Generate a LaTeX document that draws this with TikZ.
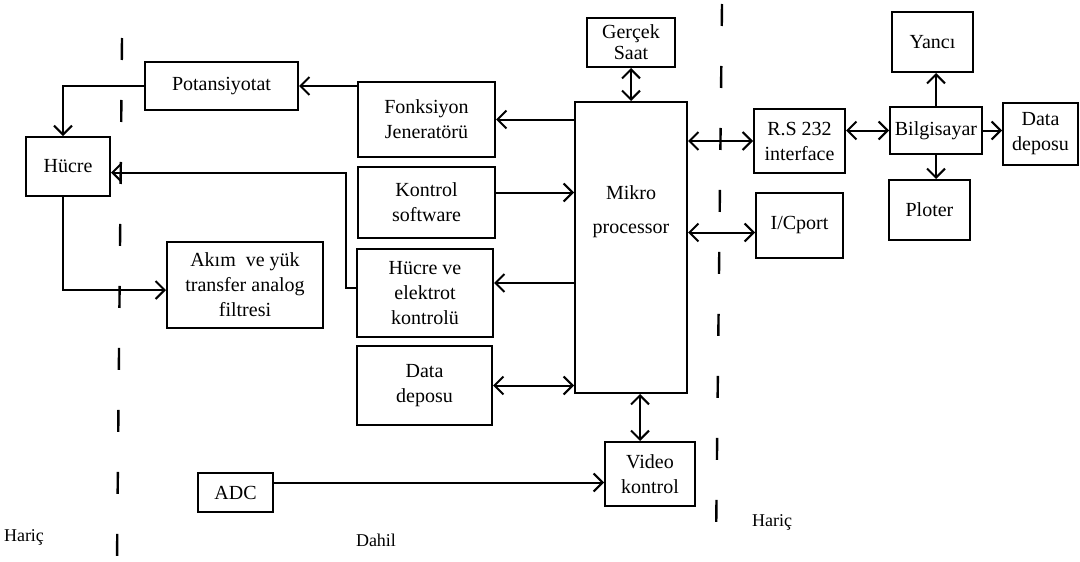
\documentclass[tikz,border=0pt]{standalone}
\usepackage{fontspec}
\setmainfont{Liberation Serif}
\usetikzlibrary{arrows.meta, positioning, calc}

\begin{document}
\begin{tikzpicture}[
  x=1pt, y=-1pt,
  every node/.style={font=\fontsize{20}{25}\selectfont},
  blk/.style 2 args={rectangle, draw=black, line width=2pt, fill=white,
    minimum width=#1pt, minimum height=#2pt, inner sep=1pt, align=center},
  arr/.style={-{Straight Barb[length=9pt, width=18pt]}, line width=2pt},
  dblarr/.style={{Straight Barb[length=9pt, width=18pt]}-{Straight Barb[length=9pt, width=18pt]}, line width=2pt},
  bound/.style={line width=2.4pt, dash pattern=on 22pt off 40pt},
  region/.style={font=\fontsize{18}{20}\selectfont}
]
\useasboundingbox (0,0) rectangle (1080,562);

% ---- SINIRLAR ----
\draw[bound] (122,38) -- (117,562);
\draw[bound] (722,4) -- (716,545);
\node[region] (harc1) at (24,537) {Hariç};
\node[region] (dahil) at (376,540) {Dahil};
\node[region] (harc2) at (772,522) {Hariç};

% ---- HARICI (SOL) ----
\node[blk={84}{59}] (hucre) at (68,166.5) {Hücre};
\node[blk={153}{48}] (pot) at (221.5,86) {Potansiyotat};
\node[blk={156}{86}] (akim) at (245,285) {Akım \ ve yük\\transfer analog\\filtresi};
\node[blk={75}{39}] (adc) at (235.5,492.5) {ADC};

% ---- DAHILI ----
\node[blk={137}{75}] (fonk) at (426.5,119.5) {Fonksiyon\\Jeneratörü};
\node[blk={137}{71}] (kontrol) at (426.5,202.5) {Kontrol\\software};
\node[blk={136}{88}] (elek) at (425,293) {Hücre ve\\elektrot\\kontrolü};
\node[blk={135}{79}] (ddep) at (424.5,385.5) {Data\\deposu};
\node[blk={88}{49}, font=\fontsize{20}{21}\selectfont] (saat) at (631,42.5) {Gerçek\\Saat};
\node[blk={112}{291}, label={[align=center, yshift=36pt, font=\fontsize{20}{34}\selectfont]center:Mikro\\processor}] (mikro) at (631,247.5) {};
\node[blk={90}{64}] (video) at (650,474) {Video\\kontrol};

% ---- HARICI (SAG) ----
\node[blk={91}{64}] (rs) at (799.5,141) {R.S 232\\interface};
\node[blk={87}{65}] (io) at (799.5,225.5) {I/Cport};
\node[blk={92}{47}] (bilg) at (936,130.5) {Bilgisayar};
\node[blk={81}{60}] (yanci) at (932.5,42) {Yancı};
\node[blk={81}{60}] (ploter) at (929.5,210) {Ploter};
\node[blk={75}{62}] (ddep2) at (1040.5,134) {Data\\deposu};

% ---- BAGLANTILAR ----
\draw[arr] (fonk.west |- pot.east) -- (pot.east);
\draw[arr] (pot.west) -| ([xshift=-5pt]hucre.north);
\draw[arr] ([xshift=-5pt]hucre.south) |- ([yshift=-5pt]akim.west);
\draw[arr] ([yshift=5pt]elek.west) -- ++(-10,0) |- ([yshift=-6pt]hucre.east);
\draw[arr] (mikro.west |- fonk.east) -- (fonk.east);
\draw[arr] ([yshift=10pt]kontrol.east) -- ([yshift=10pt]kontrol.east -| mikro.west);
\draw[arr] ([yshift=10pt]elek.east -| mikro.west) -- ([yshift=10pt]elek.east);
\draw[dblarr] (ddep.east) -- (ddep.east -| mikro.west);
\draw[dblarr] (saat.south) -- (saat.south |- mikro.north);
\draw[dblarr] ([xshift=9pt]mikro.south) -- ([xshift=9pt]mikro.south |- video.north);
\draw[arr] ([yshift=10pt]adc.east) -- ([yshift=10pt]adc.east -| video.west);
\draw[dblarr] (mikro.east |- rs.west) -- (rs.west);
\draw[dblarr] ([yshift=-7pt]io.west -| mikro.east) -- ([yshift=-7pt]io.west);
\draw[dblarr] (rs.east |- bilg.west) -- (bilg.west);
\draw[arr] (bilg.east) -- (bilg.east -| ddep2.west);
\draw[arr] (bilg.north) -- (bilg.north |- yanci.south);
\draw[arr] (bilg.south) -- (bilg.south |- ploter.north);
\end{tikzpicture}
\end{document}
